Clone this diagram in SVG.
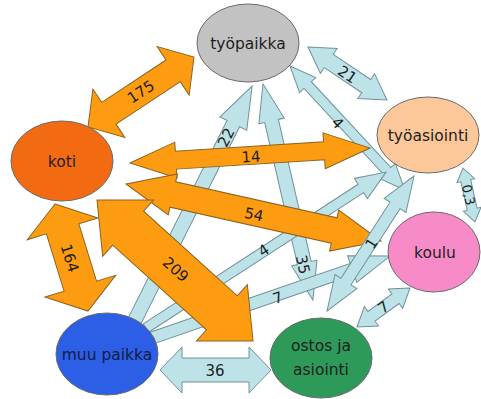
<svg xmlns="http://www.w3.org/2000/svg" width="481" height="399" viewBox="0 0 481 399">
<style>
.o{fill:#FD9C10;stroke:#8a6420;stroke-width:1}
.b{fill:#BDE3E8;stroke:#6f9299;stroke-width:1}
.n{stroke:#6a6a6a;stroke-width:1}
text{font-family:"DejaVu Sans","Liberation Sans",sans-serif;fill:#1e1e1e}
.nt{font-size:15.5px;text-anchor:middle}
.lt{font-size:15px;text-anchor:middle}
</style>
<rect width="481" height="399" fill="#ffffff"/>
<g id="connectors">
<g transform="translate(135,320) rotate(-63.4)"><polygon class="b" points="0,-7 219.6,-7 219.6,-15 261.6,0 219.6,15 219.6,7 0,7"/><text class="lt" x="204" y="5">22</text></g>
<g transform="translate(263,84) rotate(77)"><polygon class="b" points="0,0 38,-13 38,-7 183.7,-7 183.7,-13 221.7,0 183.7,13 183.7,7 38,7 38,13"/><text class="lt" x="185" y="7">35</text></g>
<g transform="translate(290,66) rotate(47.2)"><polygon class="b" points="0,0 26,-11 26,-5 143.1,-5 143.1,-11 169.1,0 143.1,11 143.1,5 26,5 26,11"/><text class="lt" x="74" y="9">4</text></g>
<g transform="translate(146,328) rotate(-33)"><polygon class="b" points="0,-5 256.2,-5 256.2,-12 286.2,0 256.2,12 256.2,5 0,5"/><text class="lt" x="141" y="4">4</text></g>
<g transform="translate(152,338) rotate(-19)"><polygon class="b" points="0,-6 211.7,-6 211.7,-14 251.7,0 211.7,14 211.7,6 0,6"/><text class="lt" x="132" y="8">7</text></g>
<g transform="translate(308,47) rotate(33.9)"><polygon class="b" points="0,0 25,-15 25,-8 70.1,-8 70.1,-15 95.1,0 70.1,15 70.1,8 25,8 25,15"/><text class="lt" x="48" y="6">21</text></g>
<g transform="translate(463,168) rotate(77.5)"><polygon class="b" points="0,0 13,-9 13,-5 42.3,-5 42.3,-9 55.3,0 42.3,9 42.3,5 13,5 13,9"/><text class="lt" style="font-size:13px" x="27.5" y="5">0,3</text></g>
<g transform="translate(357,327) rotate(-36.3)"><polygon class="b" points="0,0 18,-12 18,-6 47.8,-6 47.8,-12 65.8,0 47.8,12 47.8,6 18,6 18,12"/><text class="lt" x="33" y="5">7</text></g>
<g transform="translate(160,370)"><polygon class="b" points="0,0 22,-23 22,-12 89,-12 89,-23 111,0 89,23 89,12 22,12 22,23"/><text class="lt" x="55" y="6">36</text></g>
<g transform="translate(88,127) rotate(-33.4)"><polygon class="o" points="0,0 25,-29 25,-13 102,-13 102,-29 127,0 102,29 102,13 25,13 25,29"/><text class="lt" x="63.5" y="5">175</text></g>
<g transform="translate(130,163) rotate(-3.58)"><polygon class="o" points="0,0 46,-18 46,-9 194.5,-9 194.5,-18 240.5,0 194.5,18 194.5,9 46,9 46,18"/><text class="lt" x="121" y="6.5">14</text></g>
<g transform="translate(126,184) rotate(12.6)"><polygon class="o" points="0,0 48,-21 48,-13 213.3,-13 213.3,-21 261.3,0 213.3,21 213.3,13 48,13 48,21"/><text class="lt" x="131.5" y="7">54</text></g>
<g transform="translate(55,204) rotate(72.9)"><polygon class="o" points="0,0 26,-37 26,-17 86,-17 86,-37 112,0 86,37 86,17 26,17 26,37"/><text class="lt" x="56" y="7">164</text></g>
<g transform="translate(97,200) rotate(42.1)"><polygon class="o" points="0,0 42,-38 42,-23 168.3,-23 168.3,-38 210.3,0 168.3,38 168.3,23 42,23 42,38"/><text class="lt" x="105" y="4">209</text></g>
<g transform="translate(327,311) rotate(-57.2)"><polygon class="b" points="0,0 35,-13 35,-6 125.6,-6 125.6,-13 160.6,0 125.6,13 125.6,6 35,6 35,13"/><text class="lt" x="81" y="6">1</text></g>
</g>
<g id="tyopaikka"><ellipse class="n" cx="248" cy="43" rx="51" ry="39" fill="#C2C2C2"/><text class="nt" x="248" y="49">työpaikka</text></g>
<g id="koti"><ellipse class="n" cx="62" cy="161" rx="51" ry="40" fill="#F26B12"/><text class="nt" x="62" y="167">koti</text></g>
<g id="tyoasiointi"><ellipse class="n" cx="428" cy="135" rx="51" ry="38" fill="#FCC89A"/><text class="nt" x="428" y="141">työasiointi</text></g>
<g id="koulu"><ellipse class="n" cx="434" cy="252" rx="46" ry="40" fill="#F68BC8"/><text class="nt" x="435" y="258">koulu</text></g>
<g id="ostos"><ellipse class="n" cx="321" cy="358" rx="51" ry="40" fill="#2E9A5A"/><text class="nt" x="321" y="351">ostos ja</text><text class="nt" x="321" y="375">asiointi</text></g>
<g id="muu"><ellipse class="n" cx="107" cy="354" rx="51" ry="41" fill="#2C5FE6"/><text class="nt" x="107" y="360" style="fill:#141a44">muu paikka</text></g>
</svg>
